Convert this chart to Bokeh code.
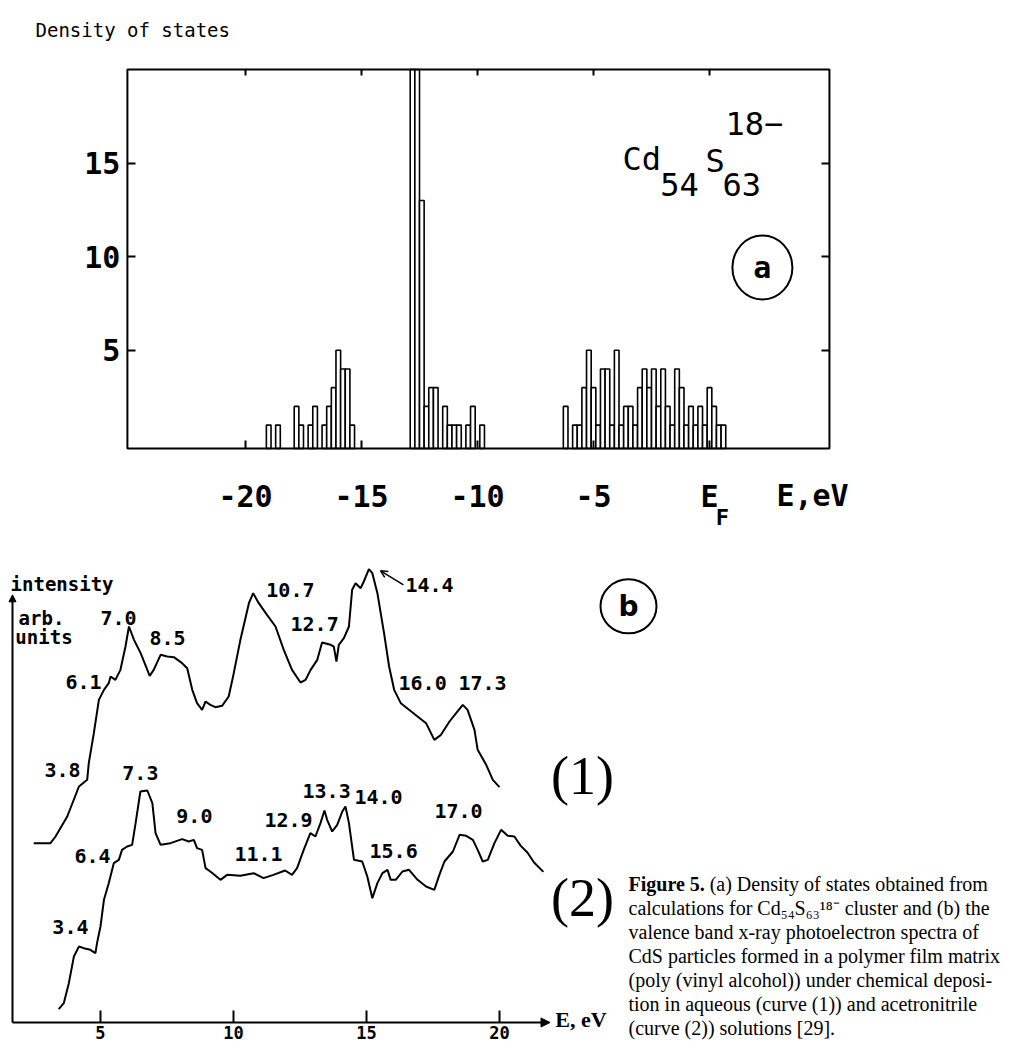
from bokeh.plotting import figure
from bokeh.models import Range1d, FixedTicker, LinearAxis, Label, Arrow, NormalHead, OpenHead
from bokeh.layouts import column
from bokeh.embed import file_html
from bokeh.resources import INLINE

# ---------------- Panel (a): density of states ----------------
dos_energy = [-19.0, -18.6, -17.8, -17.6, -17.2, -17.0, -16.6, -16.4, -16.2, -16.0, -15.8, -15.6, -15.4,
              -12.8, -12.6, -12.4, -12.2, -12.0, -11.8, -11.4, -11.2, -11.0, -10.8, -10.4, -10.2, -9.8,
              -6.2, -5.8, -5.6, -5.4, -5.2, -5.0, -4.8, -4.6, -4.4, -4.2, -4.0, -3.8, -3.6, -3.4, -3.2,
              -3.0, -2.8, -2.6, -2.4, -2.2, -2.0, -1.8, -1.6, -1.4, -1.2, -1.0, -0.8, -0.6, -0.4, -0.2,
              0.0, 0.2, 0.4, 0.6]
dos_count = [1, 1, 2, 1, 1, 2, 1, 2, 3, 5, 4, 4, 1,
             26, 22, 13, 2, 3, 3, 2, 1, 1, 1, 1, 2, 1,
             2, 1, 1, 3, 5, 3, 1, 4, 4, 1, 5, 1, 2, 2, 1,
             3, 4, 3, 4, 2, 4, 2, 1, 4, 3, 1, 2, 1, 2, 1,
             3, 2, 1, 1]
bin_width = 0.2
a_xticks = [-20, -15, -10, -5, 0]
a_xtick_labels = {-20: "-20", -15: "-15", -10: "-10", -5: "-5", 0: "E"}
a_yticks = [5, 10, 15]
# plotted window of panel (a)
A_XMIN, A_XMAX = -25.09, 5.17
A_YMIN, A_YMAX = -0.25, 20.0

# ---------------- Panel (b): XPS valence band spectra ----------------
curve1_e = [2.49, 3.12, 3.31, 3.75, 4.19, 4.50, 4.56, 4.75, 4.94, 5.13, 5.31, 5.38, 5.56, 5.75, 5.94, 6.07,
            6.26, 6.51, 6.85, 7.00, 7.26, 7.51, 7.76, 8.07, 8.26, 8.45, 8.63, 8.82, 8.95, 9.13, 9.32, 9.57,
            9.82, 10.01, 10.26, 10.58, 10.74, 10.95, 11.26, 11.58, 11.89, 12.20, 12.52, 12.71, 12.90, 13.15,
            13.33, 13.65, 13.77, 13.87, 13.96, 14.15, 14.34, 14.46, 14.59, 14.78, 14.90, 15.09, 15.22, 15.41,
            15.66, 15.85, 16.04, 16.29, 16.60, 16.92, 17.24, 17.55, 17.80, 18.12, 18.37, 18.62, 18.80, 19.06,
            19.18, 19.50, 19.75, 20.00]
curve1_i = [53.8, 53.8, 55.8, 61.8, 70.8, 72.8, 77.8, 86.8, 96.8, 99.8, 101.8, 103.8, 102.8, 105.8, 112.8, 118.8,
            114.8, 110.8, 104.0, 105.8, 110.3, 109.8, 109.6, 107.8, 106.3, 99.8, 95.8, 93.8, 96.3, 95.3, 94.6, 95.0,
            97.8, 104.8, 114.8, 125.8, 128.8, 125.8, 122.3, 118.8, 111.8, 105.8, 102.0, 102.8, 105.8, 108.8,
            114.0, 113.3, 112.8, 108.3, 113.3, 115.3, 118.8, 129.8, 131.8, 130.3, 132.3, 136.0, 134.8, 128.8,
            116.8, 106.8, 99.8, 95.8, 93.8, 91.8, 89.8, 84.8, 86.3, 90.3, 92.8, 95.3, 93.8, 87.8,
            81.8, 77.3, 72.8, 70.6]
curve2_e = [3.43, 3.62, 3.81, 4.00, 4.19, 4.37, 4.62, 4.81, 4.87, 5.00, 5.13, 5.31, 5.50, 5.69, 5.81, 6.00,
            6.19, 6.32, 6.50, 6.76, 6.95, 7.07, 7.26, 7.63, 8.07, 8.32, 8.51, 8.63, 8.82, 8.95, 9.13, 9.51,
            9.76, 10.26, 10.76, 11.13, 11.50, 11.94, 12.20, 12.39, 12.64, 12.89, 13.08, 13.27, 13.42, 13.52,
            13.71, 13.90, 14.09, 14.21, 14.34, 14.53, 14.84, 15.03, 15.22, 15.41, 15.60, 15.79, 15.91, 16.10,
            16.35, 16.60, 16.92, 17.24, 17.55, 17.74, 17.93, 18.25, 18.50, 18.75, 19.00, 19.18, 19.37, 19.56,
            19.81, 20.06, 20.31, 20.56, 20.80, 21.05, 21.30, 21.65]
curve2_i = [4.0, 5.8, 11.8, 19.8, 22.8, 22.3, 21.8, 20.8, 23.8, 28.8, 36.8, 41.8, 47.8, 48.8, 51.8, 52.8,
            53.3, 59.8, 69.3, 69.6, 65.8, 56.8, 53.3, 53.8, 55.0, 54.3, 54.8, 52.3, 51.8, 46.3, 45.3, 42.8,
            44.3, 44.0, 44.8, 43.3, 44.3, 45.6, 44.3, 46.3, 51.8, 56.8, 55.8, 59.8, 63.6, 60.8,
            57.3, 59.3, 63.3, 64.8, 59.8, 48.8, 48.3, 43.8, 37.3, 41.8, 44.8, 45.8, 42.8, 42.8,
            45.3, 45.8, 42.8, 40.8, 39.8, 44.3, 48.3, 51.3, 56.3, 56.0, 54.8, 51.8, 48.3, 48.8,
            53.8, 57.8, 56.0, 55.8, 53.0, 51.0, 48.0, 45.2]
b_xticks = [5, 10, 15, 20]
B_XMIN, B_XEND, B_YTOP = 1.692, 21.9, 128.3
peak_labels_1 = ["3.8", "6.1", "7.0", "8.5", "10.7", "12.7", "14.4", "16.0", "17.3"]
peak_pos_1 = [(3.57, 75.8), (4.36, 102.2), (5.68, 121.3), (7.52, 115.3), (12.14, 129.8), (13.05, 119.6),
              (17.37, 131.3), (17.11, 101.9), (19.36, 101.9)]
peak_labels_2 = ["3.4", "6.4", "7.3", "9.0", "11.1", "12.9", "13.3", "14.0", "15.6", "17.0"]
peak_pos_2 = [(3.87, 28.7), (4.70, 50.0), (6.50, 74.9), (8.53, 62.0), (10.94, 50.6), (12.07, 60.8),
              (13.50, 69.5), (15.45, 67.7), (16.02, 51.5), (18.46, 63.5)]

caption_lines = [
    "calculations for Cd\u2085\u2084S\u2086\u2083\u00b9\u2078\u207b cluster and (b) the",
    "valence band x-ray photoelectron spectra of",
    "CdS particles formed in a polymer film matrix",
    "(poly (vinyl alcohol)) under chemical deposi-",
    "tion in aqueous (curve (1)) and acetronitrile",
    "(curve (2)) solutions [29].",
]

MONO = "DejaVu Sans Mono"
SERIF = "Liberation Serif"


def style_axis(ax, ticks, show_labels, size="30px", standoff=8, tick_in=8):
    ax.ticker = FixedTicker(ticks=ticks)
    ax.minor_tick_line_color = None
    ax.major_tick_in = tick_in
    ax.major_tick_out = 0
    ax.major_tick_line_width = 2
    ax.major_tick_line_color = "black"
    ax.axis_line_color = None
    ax.major_label_text_font = MONO
    ax.major_label_text_font_size = size
    ax.major_label_text_font_style = "bold"
    ax.major_label_text_color = "black" if show_labels else None
    ax.major_label_standoff = standoff


def lab(p, x, y, text, font=MONO, size="30px", style="normal", align="left", baseline="middle"):
    p.add_layout(Label(x=x, y=y, text=text, text_font=font, text_font_size=size,
                       text_font_style=style, text_align=align, text_baseline=baseline,
                       text_color="black"))


# ======== figure (a) ========
pa = figure(width=1012, height=532, x_range=Range1d(-30.560, 13.060), y_range=Range1d(-4.737, 23.682),
            output_backend="svg", toolbar_location=None,
            min_border_left=0, min_border_right=0, min_border_top=0, min_border_bottom=0)
pa.grid.visible = False
pa.outline_line_color = None
pa.background_fill_color = "white"
pa.border_fill_color = "white"

lefts = [e - bin_width / 2 for e in dos_energy]
rights = [e + bin_width / 2 for e in dos_energy]
tops = [min(c, A_YMAX) for c in dos_count]
pa.quad(left=lefts, right=rights, bottom=A_YMIN, top=tops,
        fill_color="white", line_color="black", line_width=1.6)
# plot box
pa.quad(left=[A_XMIN], right=[A_XMAX], bottom=[A_YMIN], top=[A_YMAX],
        fill_color=None, line_color="black", line_width=2)

xa = pa.xaxis[0]
style_axis(xa, a_xticks, True, standoff=30)
xa.major_label_overrides = a_xtick_labels
xa.fixed_location = A_YMIN
ya = pa.yaxis[0]
style_axis(ya, a_yticks, True, standoff=7)
ya.fixed_location = A_XMIN
ra = LinearAxis(fixed_location=A_XMAX)
style_axis(ra, a_yticks, False)
pa.add_layout(ra, "right")
ta = LinearAxis(fixed_location=A_YMAX)
style_axis(ta, a_xticks, False, tick_in=6)
pa.add_layout(ta, "above")

lab(pa, -29.05, 22.08, "Density of states", size="19px")
lab(pa, 0.56, -3.94, "F", size="22px", style="bold", align="center")
lab(pa, 4.44, -2.76, "E,eV", size="30px", style="bold", align="center")
# cluster formula
lab(pa, -3.75, 15.19, "Cd", size="32px")
lab(pa, -2.12, 13.85, "54", size="32px")
lab(pa, -0.17, 15.13, "S", size="32px")
lab(pa, 0.56, 13.85, "63", size="32px")
lab(pa, 0.69, 17.11, "18\u2212", size="32px")
# circled (a)
pa.ellipse(x=[2.28], y=[9.42], width=60, height=64, width_units="screen", height_units="screen",
           fill_color=None, line_color="black", line_width=2)
lab(pa, 2.28, 9.42, "a", size="30px", style="bold", align="center")

# ======== figure (b) ========
pb = figure(width=1012, height=510, x_range=Range1d(1.241, 39.286), y_range=Range1d(-6.0, 147.0),
            output_backend="svg", toolbar_location=None, y_axis_location=None,
            min_border_left=0, min_border_right=0, min_border_top=0, min_border_bottom=0)
pb.grid.visible = False
pb.outline_line_color = None
pb.background_fill_color = "white"
pb.border_fill_color = "white"

pb.line(curve1_e, curve1_i, line_color="black", line_width=2)
pb.line(curve2_e, curve2_i, line_color="black", line_width=2)

xb = pb.xaxis[0]
style_axis(xb, b_xticks, True, size="17px", standoff=3, tick_in=12)
xb.fixed_location = 0

# axes drawn as arrows
pb.add_layout(Arrow(x_start=B_XMIN, y_start=0, x_end=B_XEND, y_end=0, line_width=2, line_color="black",
                    end=NormalHead(size=9, fill_color="black", line_color="black")))
pb.add_layout(Arrow(x_start=B_XMIN, y_start=0, x_end=B_XMIN, y_end=B_YTOP, line_width=2, line_color="black",
                    end=NormalHead(size=7, fill_color="black", line_color="black")))
lab(pb, 22.1, 0.8, "E, eV", font=SERIF, size="22px", style="bold")

lab(pb, 1.62, 131.6, "intensity", size="19px", style="bold")
lab(pb, 1.92, 121.4, "arb.", size="19px", style="bold")
lab(pb, 1.80, 115.7, "units", size="19px", style="bold")

for t, (x, y) in zip(peak_labels_1, peak_pos_1):
    lab(pb, x, y, t, size="20px", style="bold", align="center")
for t, (x, y) in zip(peak_labels_2, peak_pos_2):
    lab(pb, x, y, t, size="20px", style="bold", align="center")
pb.add_layout(Arrow(x_start=16.39, y_start=131.3, x_end=15.53, y_end=135.5, line_width=1.5,
                    line_color="black", end=OpenHead(size=7, line_width=1.5)))

lab(pb, 23.12, 74.0, "(1)", font=SERIF, size="54px", align="center")
lab(pb, 23.12, 37.3, "(2)", font=SERIF, size="54px", align="center")

pb.ellipse(x=[24.85], y=[124.85], width=56, height=54, width_units="screen", height_units="screen",
           fill_color=None, line_color="black", line_width=2)
lab(pb, 24.85, 124.85, "b", font="DejaVu Sans", size="28px", style="bold", align="center")

# caption
cap_x = 24.85
cap_y0 = 41.7
cap_step = 7.2
lab(pb, cap_x, cap_y0, "Figure 5.", font=SERIF, size="20px", style="bold")
lab(pb, cap_x + 3.05, cap_y0, "(a) Density of states obtained from", font=SERIF, size="20px")
for k, line in enumerate(caption_lines):
    lab(pb, cap_x, cap_y0 - cap_step * (k + 1), line, font=SERIF, size="20px")

layout = column(pa, pb, spacing=0)
open("out.html", "w").write(file_html(layout, INLINE))
